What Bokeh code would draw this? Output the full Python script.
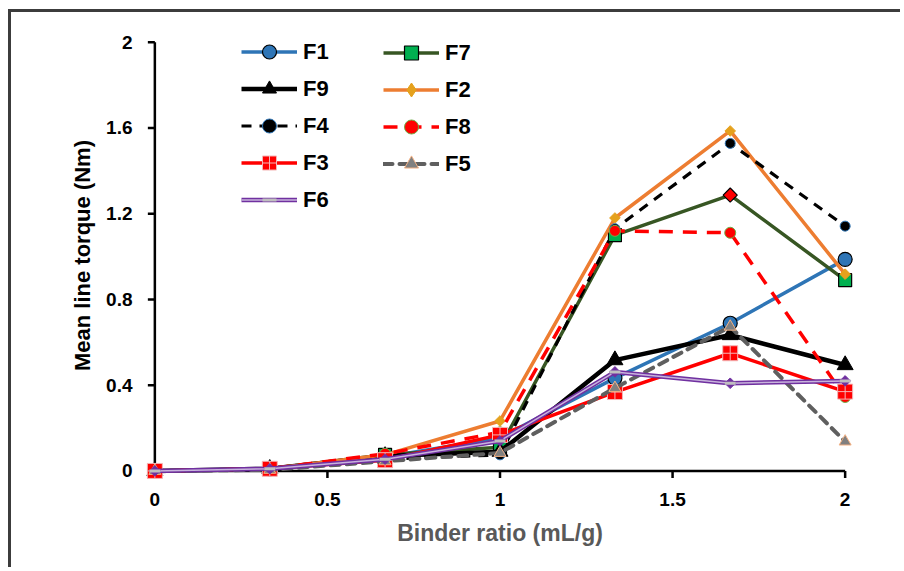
import numpy as np
from bokeh.plotting import figure
from bokeh.models import Range1d, FixedTicker, Legend, LegendItem, Title
from bokeh.embed import file_html
from bokeh.resources import INLINE

# ---------------- data ----------------
binder_ratio = [0, 0.333, 0.667, 1, 1.333, 1.667, 2]
F1 = [0, 0.01, 0.065, 0.155, 0.433, 0.689, 0.987]
F7 = [0, 0.01, 0.075, 0.11, 1.10, 1.287, 0.89]
F9 = [0, 0.01, 0.07, 0.09, 0.517, 0.634, 0.494]
F2 = [0, 0.01, 0.075, 0.233, 1.18, 1.586, 0.918]
F4 = [0, 0.008, 0.055, 0.075, 1.13, 1.528, 1.142]
F8 = [0, 0.01, 0.08, 0.18, 1.12, 1.111, 0.345]
F3 = [0, 0.01, 0.05, 0.168, 0.368, 0.549, 0.37]
F5 = [0, 0.005, 0.045, 0.084, 0.387, 0.673, 0.137]
F6 = [0, 0.01, 0.055, 0.14, 0.462, 0.409, 0.42]
x_ticks = [0, 0.5, 1, 1.5, 2]
x_tick_labels = ["0", "0.5", "1", "1.5", "2"]
y_ticks = [0, 0.4, 0.8, 1.2, 1.6, 2]
y_tick_labels = ["0", "0.4", "0.8", "1.2", "1.6", "2"]

FONT = "Liberation Sans"
FRAME_W, FRAME_H = 711, 448
XR = (-0.03, 2.03)
YR = (-0.04, 2.05)

p = figure(output_backend="svg", toolbar_location=None,
           frame_width=FRAME_W, frame_height=FRAME_H,
           min_border_left=133, min_border_top=19, min_border_right=45, min_border_bottom=88,
           x_range=Range1d(*XR), y_range=Range1d(*YR))
p.styles = {"border-left": "3px solid #3c3c3c", "border-top": "3px solid #3c3c3c",
            "margin-top": "9px", "margin-left": "8px"}
p.outline_line_color = None
p.xgrid.visible = False
p.ygrid.visible = False
p.background_fill_color = "white"

# axes: only labels from bokeh axes; axis lines / ticks drawn at the zero lines
for ax, ticks, labels in ((p.xaxis[0], x_ticks, x_tick_labels), (p.yaxis[0], y_ticks, y_tick_labels)):
    ax.ticker = FixedTicker(ticks=ticks)
    ax.major_label_overrides = {t: l for t, l in zip(ticks, labels)}
    ax.axis_line_color = None
    ax.major_tick_line_color = None
    ax.major_tick_in = 0
    ax.major_tick_out = 0
    ax.minor_tick_line_color = None
    ax.major_label_text_font = FONT
    ax.major_label_text_font_style = "bold"
    ax.major_label_text_font_size = "19px"
    ax.major_label_text_color = "black"

p.xaxis.axis_label = "Binder ratio (mL/g)"
p.xaxis.axis_label_text_font = FONT
p.xaxis.axis_label_text_font_style = "bold"
p.xaxis.axis_label_text_color = "#595959"
p.xaxis.axis_label_text_font_size = "23px"
p.xaxis.major_label_standoff = 13
p.xaxis.axis_label_standoff = 11
p.yaxis.major_label_standoff = 12

# y-axis title as a side title (shifted down to sit where the reference has it)
p.add_layout(Title(text="Mean line torque (Nm)", align="center", offset=-27, standoff=18,
                   text_font=FONT, text_font_style="bold", text_font_size="22px",
                   text_color="black"), "left")

# pixel -> data conversions for tick lengths
px_x = (XR[1] - XR[0]) / FRAME_W
px_y = (YR[1] - YR[0]) / FRAME_H
TICK = 7
p.segment(x0=[x_ticks[0]], y0=[y_ticks[0]], x1=[x_ticks[-1]], y1=[y_ticks[0]], line_color="black", line_width=2.5)
p.segment(x0=[x_ticks[0]], y0=[y_ticks[0]], x1=[x_ticks[0]], y1=[y_ticks[-1]], line_color="black", line_width=2.5)
p.segment(x0=x_ticks, y0=[y_ticks[0]] * len(x_ticks), x1=x_ticks,
          y1=[y_ticks[0] - TICK * px_y] * len(x_ticks), line_color="black", line_width=2.5)
p.segment(x0=[x_ticks[0]] * len(y_ticks), y0=y_ticks, x1=[x_ticks[0] - TICK * px_x] * len(y_ticks),
          y1=y_ticks, line_color="black", line_width=2.5)

x = binder_ratio
R = {}
NAN = [np.nan]

# F1
l = p.line(x, F1, line_color="#2E75B6", line_width=3.5)
m = p.scatter(x, F1, marker="circle", size=14, fill_color="#2E75B6", line_color="black", line_width=1.2)
R["F1"] = [l, m]
# F7 (one point shown as red diamond)
l = p.line(x, F7, line_color="#375623", line_width=3.5)
f7_fill = ["#00B050"] * len(x)
f7_angle = [0.0] * len(x)
f7_size = [13] * len(x)
f7_fill[5] = "#FF0000"; f7_angle[5] = np.pi / 4; f7_size[5] = 10
m = p.scatter(x, F7, marker="square", size=f7_size, angle=f7_angle, fill_color=f7_fill,
              line_color="black", line_width=1.2)
m_leg7 = p.scatter(NAN, NAN, marker="square", size=13, fill_color="#00B050", line_color="black", line_width=1.2)
R["F7"] = [l, m_leg7]
# F9
l = p.line(x, F9, line_color="black", line_width=4.5)
m = p.scatter(x, F9, marker="triangle", size=16, fill_color="black", line_color="black")
R["F9"] = [l, m]
# F2
l = p.line(x, F2, line_color="#ED7D31", line_width=3.5)
m = p.scatter(x, F2, marker="square", angle=np.pi / 4, size=7.5, fill_color="#E5A11D", line_color="#E5A11D")
m_leg2 = p.scatter(NAN, NAN, marker="diamond", size=9, fill_color="#E5A11D", line_color="#E5A11D")
R["F2"] = [l, m_leg2]
# F4
l = p.line(x, F4, line_color="black", line_width=3.2, line_dash="10 8")
m = p.scatter(x, F4, marker="circle", size=10, fill_color="black", line_color="#2E75B6", line_width=1)
R["F4"] = [l, m]
# F8
l = p.line(x, F8, line_color="#FF0000", line_width=3.5, line_dash="14 10")
m = p.scatter(x, F8, marker="circle", size=11, fill_color="#FF0000", line_color="#70AD47", line_width=1)
R["F8"] = [l, m]
# F3
l = p.line(x, F3, line_color="#FF0000", line_width=3.5)
m = p.scatter(x, F3, marker="square_cross", size=15, fill_color="#FF0000", line_color="#F4B6B6", line_width=1)
R["F3"] = [l, m]
# F5
l = p.line(x, F5, line_color="#5F5F5F", line_width=4, line_dash="9 7", line_cap="round")
m = p.scatter(x, F5, marker="triangle", size=12, fill_color="#808080", line_color="#F4B183", line_width=1)
R["F5"] = [l, m]
# F6 (double line)
l1 = p.line(x, F6, line_color="#7030A0", line_width=4.5)
l2 = p.line(x, F6, line_color="#C8B4DC", line_width=1.5)
m1 = p.scatter(x, F6, marker="square", angle=np.pi / 4, size=7.5, fill_color="#7030A0", line_color="#7030A0")
m2 = p.scatter(x, F6, marker="dash", size=11, line_color="#BFBFBF", line_width=3)
R["F6"] = [l1, l2, m2]

leg_kw = dict(label_text_font=FONT, label_text_font_style="bold", label_text_font_size="22px",
              label_text_color="black",
              glyph_width=56, glyph_height=35, label_height=22, label_standoff=6, spacing=2,
              padding=0, margin=0, border_line_alpha=0, background_fill_alpha=0)
col1 = ["F1", "F9", "F4", "F3", "F6"]
col2 = ["F7", "F2", "F8", "F5"]
leg1 = Legend(items=[LegendItem(label=k, renderers=R[k]) for k in col1], location=(97, 262), **leg_kw)
leg2 = Legend(items=[LegendItem(label=k, renderers=R[k]) for k in col2], location=(239, 298), **leg_kw)
p.add_layout(leg1)
p.add_layout(leg2)

open("out.html", "w").write(file_html(p, INLINE))
